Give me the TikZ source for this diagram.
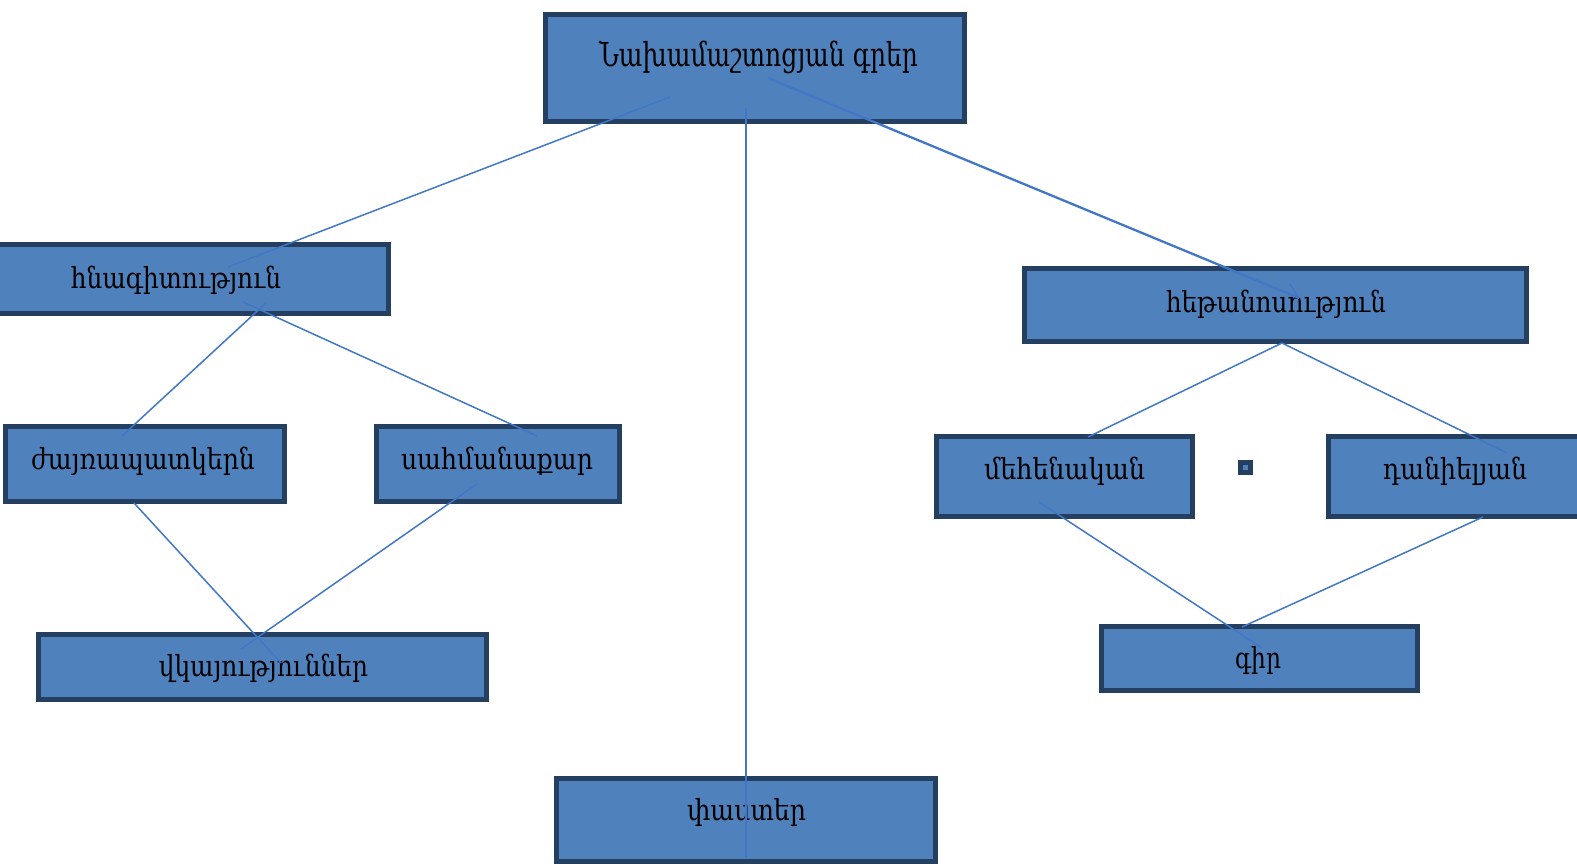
\documentclass[tikz,border=0pt]{standalone}
\usepackage{fontspec}
\usepackage{graphicx}
\setmainfont{DejaVu Serif}
\definecolor{boxfill}{HTML}{4F81BD}
\definecolor{boxline}{HTML}{243F60}
\definecolor{conn}{HTML}{4177C6}
\newcommand{\fw}[2]{\resizebox{#1pt}{\height}{#2}}
\tikzset{
  box/.style={draw=boxline, fill=boxfill, line width=5pt, inner sep=0pt, outer sep=0pt},
  lbl/.style={inner sep=0pt, outer sep=0pt, anchor=base, font=\fontsize{29}{34}\selectfont},
  biglbl/.style={lbl, font=\fontsize{33}{38}\selectfont},
  link/.style={draw=conn, line width=1.5pt},
  thicklink/.style={draw=conn, line width=2.3pt},
}
\begin{document}
\begin{tikzpicture}[x=1pt,y=-1pt]
\useasboundingbox (0,0) rectangle (1577,864);
% boxes
\node[box, minimum width=419pt, minimum height=107pt] (A) at (755,68) {};
\node[box, minimum width=391pt, minimum height=69pt] (B) at (193,279) {};
\node[box, minimum width=279pt, minimum height=75pt] (C) at (145,464) {};
\node[box, minimum width=243pt, minimum height=75pt] (D) at (498,464) {};
\node[box, minimum width=448pt, minimum height=65pt] (E) at (262.5,667) {};
\node[box, minimum width=379pt, minimum height=83pt] (F) at (746,820) {};
\node[box, minimum width=502pt, minimum height=73pt] (G) at (1275.5,305) {};
\node[box, minimum width=256pt, minimum height=80pt] (H) at (1064.5,476.5) {};
\node[box, minimum width=261.5pt, minimum height=80pt] (I) at (1459.25,476.5) {};
\node[box, minimum width=316pt, minimum height=64pt] (J) at (1259.5,658.5) {};
\node[box, minimum width=10pt, minimum height=10pt] (S) at (1245.5,467.5) {};
% texts
\node[biglbl] (At) at (758.5,67) {\fw{319}{Նախամաշտոցյան գրեր}};
\node[lbl] (Bt) at (176,288) {\fw{210}{հնագիտություն}};
\node[lbl] (Ct) at (143,469) {\fw{224}{ժայռապատկերն}};
\node[lbl] (Dt) at (497,469) {\fw{192}{սահմանաքար}};
\node[lbl] (Et) at (263.5,676) {\fw{209}{վկայություններ}};
\node[lbl] (Ft) at (746.5,820) {\fw{119}{փաստեր}};
\node[lbl] (Gt) at (1276,312) {\fw{220}{հեթանոսություն}};
\node[lbl] (Ht) at (1064.5,479) {\fw{161}{մեհենական}};
\node[lbl] (It) at (1455,479) {\fw{144}{դանիելյան}};
\node[lbl] (Jt) at (1258,668) {\fw{46}{գիր}};
% connector ends
\coordinate (A1) at (670,97);   \coordinate (B1) at (228,267);
\coordinate (A2) at (746,108);  \coordinate (F1) at (746,858);
\coordinate (A3) at (768,78);   \coordinate (G1) at (1299,298);
\coordinate (G1b) at (1290,284);
\coordinate (B2) at (266,303);  \coordinate (C1) at (122,436);
\coordinate (B3) at (243,302);  \coordinate (D1) at (537,436);
\coordinate (C2) at (134,503);  \coordinate (E1) at (281,663);
\coordinate (D2) at (477,484);  \coordinate (E2) at (241,649);
\coordinate (G2) at (1282,343); \coordinate (H1) at (1088,437);
\coordinate (I1) at (1507,453);
\coordinate (H2) at (1039,502); \coordinate (J1) at (1262,648);
\coordinate (I2) at (1483,517); \coordinate (J2) at (1242,627);
% connectors
\draw[link] (A1) -- (B1);
\draw[link] (A2) -- (F1);
\draw[thicklink] (A3) -- (G1);
\draw[link] (G1) -- (G1b);
\draw[link] (B2) -- (C1);
\draw[link] (B3) -- (D1);
\draw[link] (C2) -- (E1);
\draw[link] (D2) -- (E2);
\draw[link] (G2) -- (H1);
\draw[link] (G2) -- (I1);
\draw[link] (H2) -- (J1);
\draw[link] (I2) -- (J2);
\end{tikzpicture}
\end{document}
